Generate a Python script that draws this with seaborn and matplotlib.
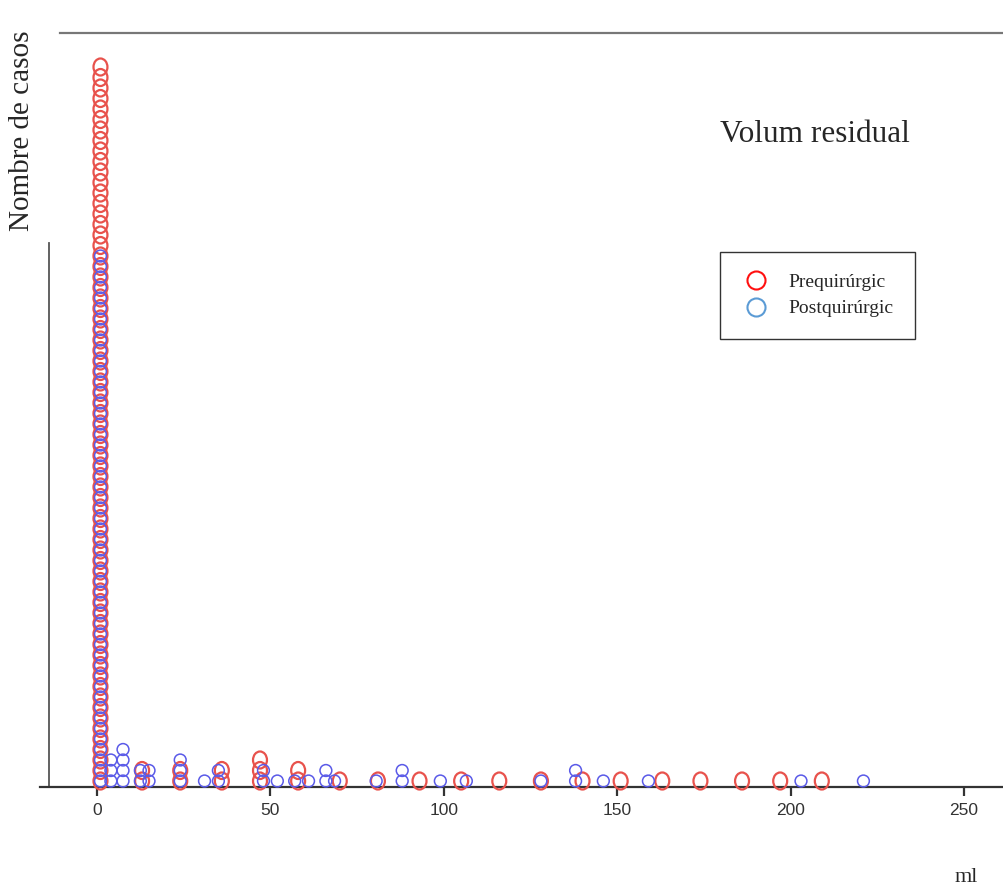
import numpy as np
import pandas as pd
import matplotlib
matplotlib.use("Agg")
import matplotlib.pyplot as plt
import seaborn as sns
from matplotlib.path import Path
from matplotlib.transforms import Affine2D
from matplotlib.lines import Line2D

# ---- data ----
groups = ["Prequirúrgic", "Postquirúrgic"]
pre_values = [1, 13, 24, 36, 47, 58, 70, 81, 93, 105, 116, 128, 140, 151, 163, 174, 186, 197, 209]
pre_counts = [69, 2, 2, 2, 3, 2, 1, 1, 1, 1, 1, 1, 1, 1, 1, 1, 1, 1, 1]
post_values = [1, 4, 7.5, 12.5, 15, 24, 31, 35, 48, 52, 57, 61, 66, 68.5, 80.5, 88, 99, 106.5,
               128, 138, 146, 159, 203, 221]
post_counts = [51, 3, 4, 2, 2, 3, 1, 2, 2, 1, 1, 1, 2, 1, 1, 2, 1, 1, 1, 2, 1, 1, 1, 1]
x_ticks = [0, 50, 100, 150, 200, 250]
title = "Volum residual"
y_label = "Nombre de casos"
x_label = "ml"


def stack(values, counts, name):
    rows = []
    for v, c in zip(values, counts):
        for k in range(c):
            rows.append({"ml": v, "level": k, "grup": name})
    return pd.DataFrame(rows)


df_pre = stack(pre_values, pre_counts, groups[0])
df_post = stack(post_values, post_counts, groups[1])

sns.set_theme(style="white")
plt.rcParams["font.family"] = ["Liberation Serif", "DejaVu Serif"]

W, H = 1004, 889
fig = plt.figure(figsize=(W / 100, H / 100), dpi=100)
ax = fig.add_axes([40 / W, (H - 787) / H, (W - 40) / W, (787 - 33) / H])

px_per_unit_x = (964 - 97) / 250.0
px_per_level = 10.5
ellipse = Path.unit_circle().transformed(Affine2D().scale(0.82, 1.0))

sns.scatterplot(data=df_pre, x="ml", y="level", ax=ax, marker=ellipse, s=150,
                facecolor="none", edgecolor="#e8524c", linewidth=1.6, legend=False,
                clip_on=False, zorder=3)
sns.scatterplot(data=df_post, x="ml", y="level", ax=ax, marker="o", s=72,
                facecolor="none", edgecolor="#5a5ae8", linewidth=1.1, legend=False,
                clip_on=False, zorder=4)

ax.set_xlim(-(97 - 40) / px_per_unit_x, (W - 97) / px_per_unit_x)
ax.set_ylim(-(787 - 781) / px_per_level, (781 - 33) / px_per_level)

ax.set_xticks(x_ticks)
ax.set_xticklabels([str(t) for t in x_ticks], family="Liberation Sans", color="#333333")
ax.set_yticks([])
ax.tick_params(axis="x", direction="out", length=6.5, width=1.6, colors="#333333",
               labelsize=12.5, pad=5, bottom=True)
ax.set_xlabel("")
ax.set_ylabel("")

for s in ax.spines.values():
    s.set_visible(True)
ax.spines["right"].set_visible(False)
ax.spines["bottom"].set_color("#333333")
ax.spines["bottom"].set_linewidth(1.6)
ax.spines["left"].set_color("#555555")
ax.spines["left"].set_linewidth(1.3)
ax.spines["left"].set_position(("data", (49 - 97) / px_per_unit_x))
ax.spines["left"].set_bounds(ax.get_ylim()[0], (781 - 243) / px_per_level)
ax.spines["top"].set_color("#777777")
ax.spines["top"].set_linewidth(1.6)
ax.spines["top"].set_bounds((60 - 97) / px_per_unit_x, ax.get_xlim()[1])

fig.text(815 / W, 1 - 135 / H, title, ha="center", va="center", fontsize=22.5)
fig.text(22 / W, 1 - 131 / H, y_label, ha="center", va="center", rotation=90, fontsize=21)
fig.text(966 / W, 1 - 878 / H, x_label, ha="center", va="center", fontsize=16)

handles = [
    Line2D([], [], linestyle="none", marker="o", markersize=13, markerfacecolor="none",
           markeredgecolor="#ff1010", markeredgewidth=1.5, label=groups[0]),
    Line2D([], [], linestyle="none", marker="o", markersize=13, markerfacecolor="none",
           markeredgecolor="#5b9bd5", markeredgewidth=1.5, label=groups[1]),
]
leg = fig.legend(handles=handles, loc="upper left", bbox_to_anchor=(720 / W, 1 - 252 / H),
                 frameon=True, fancybox=False, edgecolor="black", fontsize=14,
                 borderpad=1.1, handletextpad=0.9, labelspacing=0.45, handlelength=1.5,
                 borderaxespad=0)
leg.get_frame().set_linewidth(1.0)

fig.savefig("out.png", dpi=100, facecolor="white")
